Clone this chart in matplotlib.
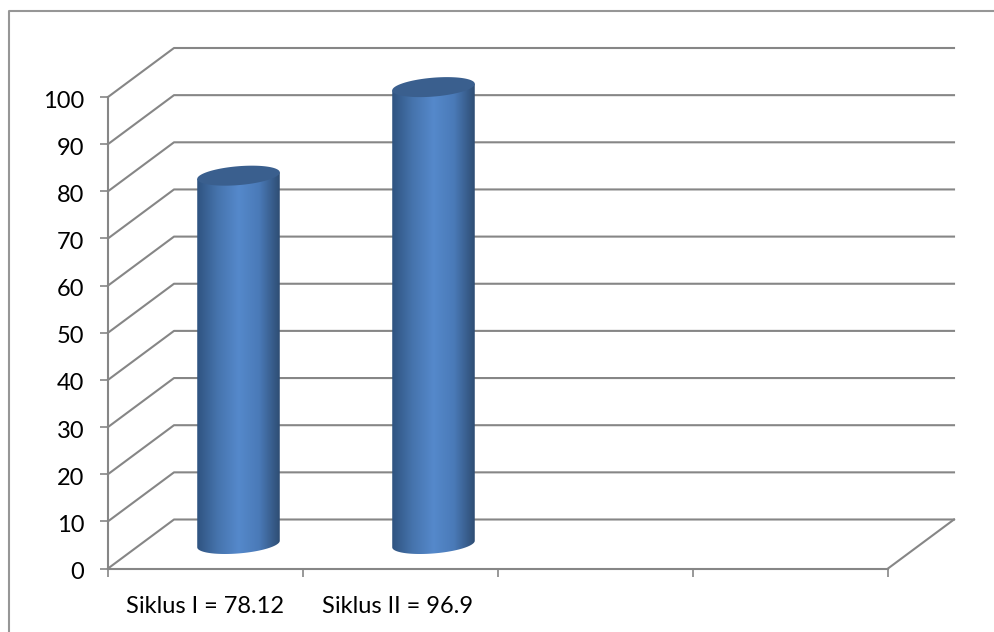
import numpy as np
import matplotlib
matplotlib.use("Agg")
from matplotlib import pyplot as plt
from matplotlib.colors import LinearSegmentedColormap
from matplotlib.lines import Line2D
from matplotlib.patches import Polygon
from matplotlib.transforms import ScaledTranslation

categories = ["Siklus I = 78.12", "Siklus II = 96.9"]
values = [78.12, 96.9]
bar_pos = [0.5, 1.5]
label_pos = [0.5, 1.485]
y_ticks = list(range(0, 101, 10))
x_ticks = [0, 1, 2, 3, 4]

grid_col = "#868686"
top_col = "#3a5f8e"

# depth of the fake 3d box, in data units
depth_x = 66 / 195
depth_y = 49 / 4.715
half_w = 39 / 195
tilt_x = 13.5 / 195
tilt_y = 10 / 4.715

plt.rcParams["font.family"] = ["Lato", "DejaVu Sans"]

W, H = 995, 632
fig = plt.figure(figsize=(W / 100, H / 100), dpi=100)
# outer frame, only top and left are in the picture
fig.add_artist(Line2D([8.5 / W, 8.5 / W, 1], [0, 1 - 11 / H, 1 - 11 / H], transform=fig.transFigure,
                      color="#969696", lw=1.5))
ax = fig.add_axes([108 / W, 1 - 568.5 / H, 780 / W, 471.5 / H])
ax.set_xlim(0, 4)
ax.set_ylim(0, 100)
ax.patch.set_alpha(0)

for s in ["top", "right"]:
    ax.spines[s].set_visible(False)
for s in ["left", "bottom"]:
    ax.spines[s].set_color(grid_col)
    ax.spines[s].set_linewidth(1.5)

ax.set_yticks(y_ticks)
ax.set_xticks(x_ticks)
ax.set_xticklabels([])
ax.set_xticks(label_pos, minor=True)
ax.set_xticklabels(categories, minor=True, fontsize=17)
ax.tick_params(axis="x", which="major", length=6, width=1.2, color=grid_col)
ax.tick_params(axis="x", which="minor", length=0, pad=20, labelcolor="black")
ax.tick_params(axis="y", length=6, width=1.2, color=grid_col, labelsize=17, pad=11)

# y labels sit a little under their ticks
nudge = ScaledTranslation(0, -2 / 100, fig.dpi_scale_trans)
for lab in ax.get_yticklabels():
    lab.set_transform(lab.get_transform() + nudge)

# walls
for v in y_ticks:
    ax.plot([0, depth_x, 4 + depth_x], [v, v + depth_y, v + depth_y], color=grid_col, lw=1.5, clip_on=False, zorder=1)
ax.plot([4, 4 + depth_x], [0, depth_y], color=grid_col, lw=1.5, clip_on=False, zorder=1)

cmap = LinearSegmentedColormap.from_list("cyl", ["#2f5380", "#4674ad", "#5589cb", "#4a7ab8", "#2e4d73"])
cmap_pos = np.linspace(0, 1, 256).reshape(1, -1)
t = np.linspace(0, 2 * np.pi, 200)

# cylinders
for x, v in zip(bar_pos, values):
    cx = x + depth_x / 2
    base = depth_y / 2
    ex = half_w * np.cos(t) + tilt_x * np.sin(t)
    ey = tilt_y * np.sin(t)
    left = np.argmin(ex)
    right = np.argmax(ex)
    xl, xr = cx + ex[left], cx + ex[right]
    # lower half of the base ellipse joined to the top outline
    tt = np.linspace(t[left], t[right] + 2 * np.pi if t[right] < t[left] else t[right], 100)
    bx = cx + half_w * np.cos(tt) + tilt_x * np.sin(tt)
    by = base + tilt_y * np.sin(tt)
    body = np.vstack([np.column_stack([bx, by]),
                      [[xr, base + v + ey[right]], [xl, base + v + ey[left]]]])
    poly = Polygon(body, closed=True, fc="none", ec="none", transform=ax.transData, clip_on=False)
    ax.add_patch(poly)
    im = ax.imshow(cmap_pos, cmap=cmap, aspect="auto", extent=[xl, xr, base - 2 * tilt_y, base + v + tilt_y],
                   zorder=3)
    # image is taller than the axes for the second bar
    im.set_clip_box(fig.bbox)
    im.set_clip_path(poly)
    ax.fill(cx + ex, base + v + ey, color=top_col, zorder=4, clip_on=False, lw=0)

ax.set_xlim(0, 4)
ax.set_ylim(0, 100)

fig.savefig("out.png", dpi=100)
